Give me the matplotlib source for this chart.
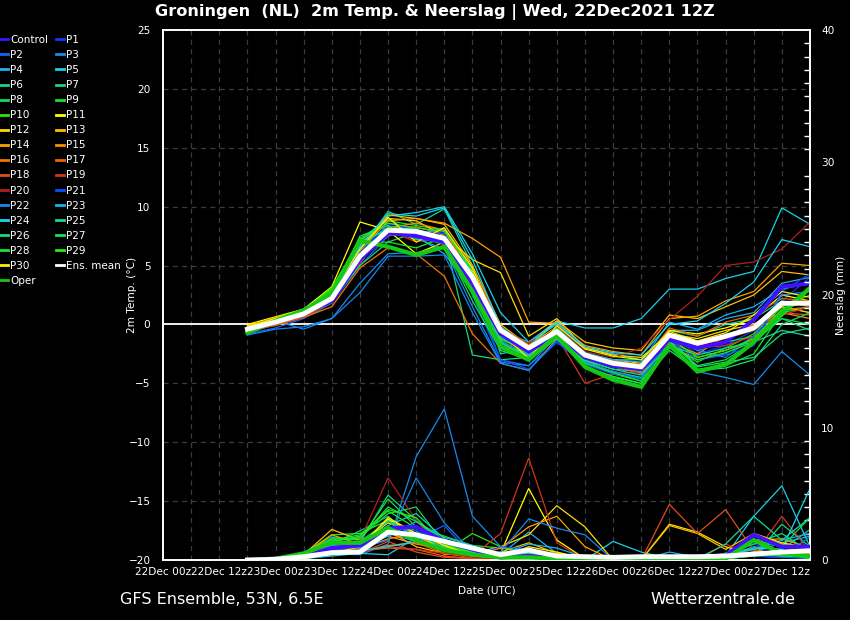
import matplotlib
matplotlib.use('Agg')
import matplotlib.pyplot as plt
from matplotlib.ticker import MultipleLocator
from matplotlib.lines import Line2D

# ---------------- data ----------------
hours = [18, 24, 30, 36, 42, 48, 54, 60, 66, 72, 78, 84, 90, 96, 102, 108, 114, 120, 126, 132, 138]
tick_hours = [0, 12, 24, 36, 48, 60, 72, 84, 96, 108, 120, 132]
tick_labels = ['22Dec 00z', '22Dec 12z', '23Dec 00z', '23Dec 12z', '24Dec 00z', '24Dec 12z',
               '25Dec 00z', '25Dec 12z', '26Dec 00z', '26Dec 12z', '27Dec 00z', '27Dec 12z']
temp_ticks = [-20, -15, -10, -5, 0, 5, 10, 15, 20, 25]
prec_ticks = [0, 10, 20, 30, 40]

# 2m temperature (deg C)
t_control = [-0.5, 0.2, 1.0, 2.0, 5.5, 7.8, 7.5, 7.0, 3.5, -0.8, -2.3, -0.8, -2.8, -3.5, -3.8, -1.3, -2.0, -1.5, 0.4, 3.2, 3.5]
t_p1 = [-0.6, 0.0, 0.8, 2.3, 6.0, 8.5, 8.2, 7.8, 4.5, -1.0, -2.5, -0.5, -2.9, -3.6, -4.0, -1.0, -2.5, -1.8, -0.5, 2.0, 4.0]
t_p2 = [-0.8, -0.3, 0.5, 1.8, 5.0, 7.5, 8.0, 7.0, 2.5, -3.0, -3.5, -1.5, -3.3, -4.0, -4.5, -2.0, -3.0, -2.5, -1.0, 1.5, 1.0]
t_p3 = [-0.7, 0.3, -0.4, 0.5, 3.5, 6.0, 6.1, 6.5, 1.5, -3.2, -3.5, -1.0, -3.0, -3.5, -4.2, -1.5, -4.0, -4.5, -5.1, -2.3, -4.3]
t_p4 = [-0.4, 0.4, 1.2, 2.5, 6.5, 9.0, 7.5, 6.0, 3.0, -0.5, -1.5, 0.0, -2.0, -2.5, -3.0, -0.5, -0.5, 0.5, 1.0, 3.5, 4.0]
t_p5 = [-0.3, 0.5, 1.3, 2.8, 7.0, 9.2, 9.5, 10.0, 6.0, 1.0, -1.5, 0.3, -0.3, -0.3, 0.5, 3.0, 3.0, 3.9, 4.5, 9.9, 8.5]
t_p6 = [-0.5, 0.1, 1.0, 2.6, 6.3, 9.6, 8.5, 9.8, 5.0, -2.5, -2.0, -0.5, -2.5, -3.0, -3.0, -0.5, -1.0, 0.0, 0.5, 2.0, 1.5]
t_p7 = [-0.6, 0.2, 0.9, 2.0, 5.0, 7.0, 7.8, 7.5, -2.6, -3.0, -2.8, -1.0, -3.0, -3.8, -4.0, -1.2, -2.2, -1.5, -1.0, 0.5, -0.5]
t_p8 = [-0.7, 0.0, 0.7, 2.2, 5.8, 8.3, 8.0, 7.2, 3.8, -1.2, -2.5, -1.0, -3.2, -4.0, -4.5, -1.5, -3.5, -3.0, -1.5, 0.5, 0.0]
t_p9 = [-0.5, 0.3, 1.1, 2.9, 7.3, 8.8, 8.4, 8.0, 4.5, -1.5, -2.8, -0.8, -3.0, -4.2, -4.8, -1.0, -3.8, -3.5, -2.5, 1.0, 1.5]
t_p10 = [-0.6, 0.4, 1.3, 3.0, 7.0, 8.0, 7.2, 7.6, 4.2, -2.0, -2.6, -0.7, -3.5, -4.5, -5.0, -1.8, -3.2, -2.0, -0.8, 1.5, 2.5]
t_p11 = [0.0, 0.65, 1.3, 3.2, 8.7, 8.0, 6.0, 7.0, 4.5, -1.0, -1.8, -0.2, -2.5, -3.0, -3.3, -0.5, -0.8, -0.3, 0.5, 2.5, 2.0]
t_p12 = [-0.1, 0.5, 1.0, 2.4, 6.8, 9.0, 8.8, 7.5, 5.5, 4.4, -1.0, 0.5, -2.0, -2.6, -2.8, -0.8, -1.2, -0.5, 0.0, 1.5, 1.0]
t_p13 = [-0.3, 0.4, 1.2, 2.7, 6.0, 9.3, 9.0, 8.5, 5.0, 0.0, -1.8, 0.3, -1.5, -2.0, -2.2, 0.8, 0.5, 1.5, 2.5, 4.5, 4.2]
t_p14 = [-0.2, 0.6, 1.1, 2.5, 6.2, 8.8, 9.0, 8.6, 7.3, 5.7, 0.2, 0.1, -1.8, -2.3, -2.6, 0.5, 0.7, 2.0, 2.8, 5.2, 5.0]
t_p15 = [-0.4, 0.2, 0.9, 2.1, 5.2, 8.2, 8.6, 8.0, 4.0, -0.5, -2.2, -0.9, -2.7, -3.0, -3.5, -1.5, -2.5, -1.0, 0.0, 1.0, 0.5]
t_p16 = [-0.5, -0.1, 0.6, 1.5, 4.8, 6.5, 6.0, 4.1, -0.8, -3.3, -3.9, -1.2, -2.9, -3.6, -4.1, -2.0, -2.8, -2.2, -1.3, 1.2, 1.5]
t_p17 = [-0.8, 0.1, 0.9, 2.3, 5.9, 8.1, 8.3, 7.6, 4.8, -0.2, -1.7, -0.4, -2.4, -3.1, -3.4, -0.3, -1.0, 0.2, 0.8, 2.2, 2.0]
t_p18 = [-0.6, 0.0, 0.6, 1.9, 5.4, 7.6, 7.7, 6.8, 3.2, -1.8, -2.4, -0.6, -2.6, -3.4, -3.9, -1.0, -1.8, -1.2, -0.5, 1.0, 0.8]
t_p19 = [-0.7, 0.0, 0.8, 2.4, 6.0, 8.0, 7.0, 7.5, 3.5, -2.0, -1.5, -1.0, -5.0, -4.2, -4.0, -1.2, -2.0, -1.8, -1.0, 0.8, 1.5]
t_p20 = [-0.6, 0.1, 0.8, 2.2, 5.6, 8.2, 7.8, 7.0, 4.0, -0.8, -2.0, -0.2, -2.3, -2.8, -2.0, 0.4, 2.4, 5.0, 5.3, 6.4, 8.7]
t_p21 = [-0.5, 0.3, 1.0, 2.6, 6.1, 8.6, 8.0, 7.7, 3.3, -3.0, -3.8, -1.5, -3.4, -4.2, -4.6, -1.3, -3.0, -2.6, -1.8, 2.8, 4.3]
t_p22 = [-0.9, -0.4, -0.2, 0.5, 2.7, 5.8, 5.8, 5.9, 1.0, -3.3, -3.9, -1.3, -3.2, -4.0, -4.6, -0.8, -2.2, -2.8, -1.0, 2.5, 2.8]
t_p23 = [-0.4, 0.2, 1.0, 2.4, 5.9, 7.9, 7.3, 6.4, 2.8, -1.4, -2.6, -0.3, -2.4, -3.0, -3.2, 0.2, -0.4, 0.8, 1.5, 3.0, 3.5]
t_p24 = [-0.3, 0.4, 1.1, 2.6, 6.6, 9.4, 9.2, 9.9, 5.5, -0.2, -1.9, 0.2, -1.9, -2.4, -2.6, 0.0, 0.3, 1.8, 3.6, 7.2, 6.6]
t_p25 = [-0.6, 0.1, 0.9, 2.3, 5.5, 7.8, 7.6, 8.2, 4.3, -1.6, -2.7, -1.0, -3.1, -3.8, -4.3, -1.8, -2.6, -2.0, -1.5, -0.5, -1.0]
t_p26 = [-0.7, 0.2, 1.1, 2.7, 6.8, 8.2, 8.1, 7.0, 3.9, -1.1, -2.3, -0.5, -2.8, -3.5, -3.9, -1.4, -3.6, -3.2, -2.8, -0.8, -0.3]
t_p27 = [-0.5, 0.3, 1.0, 2.5, 7.5, 8.4, 7.4, 6.8, 2.0, -2.2, -3.0, -1.2, -3.6, -4.4, -5.0, -2.2, -3.9, -3.7, -3.0, 0.0, 1.0]
t_p28 = [-0.6, 0.2, 1.0, 2.8, 6.9, 7.0, 6.5, 7.4, 3.6, -1.9, -2.4, -0.6, -3.3, -4.1, -4.8, -1.9, -3.0, -2.4, -1.5, 0.7, 3.0]
t_p29 = [-0.4, 0.5, 1.2, 3.1, 7.2, 8.6, 8.2, 7.9, 4.7, -1.3, -2.1, -0.3, -2.6, -3.5, -4.0, -1.1, -2.8, -2.2, -1.2, 1.3, 2.0]
t_p30 = [-0.2, 0.5, 1.1, 2.6, 6.4, 9.1, 7.0, 8.2, 4.8, -0.7, -2.9, -0.1, -2.1, -2.7, -3.0, -0.6, -1.4, -0.7, 0.8, 2.8, 2.3]
t_oper = [-0.7, 0.3, 1.2, 2.6, 7.1, 6.6, 5.9, 6.6, 2.8, -1.9, -3.0, -0.9, -3.6, -4.7, -5.3, -1.75, -4.0, -3.4, -1.5, 1.0, 3.1]
t_mean = [-0.4, 0.2, 0.9, 2.2, 5.8, 8.0, 7.9, 7.3, 4.0, -0.5, -2.0, -0.6, -2.6, -3.3, -3.6, -0.9, -1.6, -1.0, -0.3, 1.8, 1.8]

# 6-hourly precipitation (mm)
p_control = [0, 0.1, 0.3, 0.9, 1.1, 2.4, 2.5, 1.4, 0.8, 0.2, 0.3, 0.1, 0, 0, 0, 0.1, 0.1, 0.3, 1.9, 1.0, 1.0]
p_p1 = [0, 0.2, 0.5, 1.8, 1.2, 2.0, 2.6, 0.8, 0.5, 0, 0.2, 0, 0, 0, 0, 0, 0.2, 0.5, 1.2, 0.6, 0.4]
p_p2 = [0, 0.1, 0.4, 1.5, 0.9, 3.0, 1.6, 2.6, 0.3, 0.1, 0.4, 0, 0, 0, 0.1, 0, 0, 0.1, 0.3, 0.2, 0.1]
p_p3 = [0, 0.1, 0.3, 0.5, 0.4, 1.2, 7.8, 11.4, 3.3, 1.0, 0.6, 0.2, 0, 0, 0, 0, 0.1, 0, 0.5, 0.4, 0.3]
p_p4 = [0, 0, 0.2, 0.6, 1.0, 2.0, 1.4, 0.9, 0.6, 0.4, 2.1, 0.5, 0, 0, 0, 0, 0.2, 0.4, 0.6, 1.3, 1.8]
p_p5 = [0, 0, 0.1, 0.3, 0.5, 0.4, 1.7, 1.0, 0.6, 0.1, 0.4, 0.2, 0, 1.4, 0.6, 0.1, 0, 0.3, 3.3, 5.6, 1.0]
p_p6 = [0, 0.1, 0.4, 1.2, 2.2, 3.3, 1.5, 0.7, 0.5, 0.3, 0.5, 0.1, 0, 0, 0, 0, 0, 0.3, 1.0, 0.8, 2.3]
p_p7 = [0, 0.1, 0.3, 1.0, 1.3, 4.9, 3.0, 1.0, 0.4, 0.2, 0.4, 0.1, 0, 0, 0, 0.1, 0, 0.2, 0.3, 2.7, 1.0]
p_p8 = [0, 0, 0.2, 1.4, 1.7, 3.5, 4.0, 1.2, 0.3, 0.1, 0.3, 0, 0, 0, 0, 0, 0.1, 0.5, 1.5, 1.0, 3.2]
p_p9 = [0, 0.1, 0.4, 1.7, 1.5, 4.6, 2.5, 1.8, 1.1, 0.9, 0.6, 0.1, 0, 0, 0, 0, 0.1, 0.1, 0.4, 0.6, 0.2]
p_p10 = [0, 0.1, 0.5, 1.9, 2.0, 3.0, 2.2, 0.6, 2.0, 1.0, 0.5, 0.2, 0, 0, 0, 0, 0, 0.2, 0.4, 0.5, 0.1]
p_p11 = [0, 0, 0.2, 0.7, 1.0, 3.1, 1.9, 0.7, 0.3, 0.5, 5.4, 1.5, 0.1, 0, 0, 0, 0.1, 0.2, 0.5, 0.7, 0.4]
p_p12 = [0, 0.1, 0.3, 0.9, 1.2, 2.8, 2.0, 1.1, 0.5, 1.0, 1.9, 4.1, 2.5, 0, 0, 2.7, 2.1, 1.0, 0.4, 0.6, 0.2]
p_p13 = [0, 0.1, 0.4, 2.3, 1.5, 2.2, 1.0, 0.5, 0.2, 0.6, 1.3, 0.5, 0, 0, 0, 2.6, 2.0, 0.8, 2.0, 1.2, 0.9]
p_p14 = [0, 0, 0.3, 1.9, 1.2, 1.8, 1.2, 0.9, 0.3, 0.9, 2.5, 3.3, 1.0, 0, 0, 0.2, 0.1, 0.3, 1.5, 1.6, 0.9]
p_p15 = [0, 0.1, 0.2, 1.2, 0.8, 1.6, 2.0, 0.4, 0.6, 0.1, 0.3, 0.2, 0, 0, 0, 0, 0, 0.3, 0.8, 0.4, 0.6]
p_p16 = [0, 0, 0.1, 0.8, 0.6, 1.1, 1.3, 0.5, 0.2, 0, 0.1, 0.6, 0, 0, 0, 0, 0, 0.2, 0.4, 0.3, 0.5]
p_p17 = [0, 0.1, 0.2, 1.0, 0.7, 0.9, 0.8, 0.3, 0.1, 0.2, 0.5, 0.1, 0, 0, 0, 0, 0, 0.1, 0.3, 0.7, 0.8]
p_p18 = [0, 0, 0.1, 0.6, 0.5, 1.4, 0.6, 0.2, 0.1, 0, 0.2, 0.1, 0, 0, 0, 4.2, 2.0, 3.8, 0.7, 0.5, 0.9]
p_p19 = [0, 0, 0.1, 0.4, 0.6, 1.0, 0.8, 0.5, 0.3, 2.0, 7.7, 1.3, 0, 0, 0, 0, 0, 1.2, 0.4, 3.3, 0.6]
p_p20 = [0, 0.1, 0.2, 0.5, 1.5, 6.2, 3.0, 0.6, 0.2, 0.1, 0.3, 0.1, 0, 0, 0, 0, 0, 0.2, 0.3, 0.4, 0.3]
p_p21 = [0, 0.1, 0.3, 1.3, 1.0, 2.4, 2.2, 1.5, 0.3, 1.0, 0.8, 0.2, 0, 0, 0, 0, 0.2, 0.5, 0.3, 0.2, 0.8]
p_p22 = [0, 0.1, 0.2, 0.7, 0.9, 1.5, 6.2, 2.8, 0.6, 0.6, 3.1, 2.4, 1.9, 0, 0, 0, 0.1, 0.3, 0.6, 0.4, 1.7]
p_p23 = [0, 0, 0.3, 1.1, 0.9, 1.8, 2.9, 1.7, 1.1, 0.4, 1.2, 0.9, 0.2, 0, 0, 0.6, 0.2, 0.4, 0.8, 1.5, 2.0]
p_p24 = [0, 0, 0.1, 0.4, 0.7, 1.0, 1.4, 0.8, 0.5, 0.3, 0.2, 0.1, 0, 0, 0, 0, 0, 0.3, 0.9, 0.8, 5.4]
p_p25 = [0, 0.1, 0.2, 0.9, 1.3, 2.6, 3.5, 1.6, 0.5, 0.2, 0.5, 0.2, 0, 0, 0, 0, 0.1, 1.2, 3.3, 1.5, 3.2]
p_p26 = [0, 0, 0.2, 0.8, 1.4, 2.9, 2.0, 0.9, 0.6, 0.4, 0.3, 0.1, 0, 0, 0, 0, 0, 0.5, 1.2, 2.0, 0.6]
p_p27 = [0, 0.1, 0.3, 1.6, 1.6, 4.0, 2.9, 1.5, 0.5, 0.1, 0.2, 0.1, 0, 0, 0, 0, 0.1, 0.2, 0.5, 0.3, 0.2]
p_p28 = [0, 0.1, 0.4, 1.5, 1.9, 3.7, 2.4, 1.3, 0.4, 0.2, 0.4, 0.2, 0, 0, 0, 0, 0, 0.1, 0.3, 0.4, 0.3]
p_p29 = [0, 0.1, 0.3, 1.4, 1.8, 3.8, 3.2, 1.0, 0.7, 0.3, 0.3, 0.1, 0, 0, 0, 0, 0, 0.2, 0.6, 0.5, 0.2]
p_p30 = [0, 0, 0.1, 0.5, 1.0, 3.2, 2.0, 1.1, 0.3, 0.2, 1.0, 0.6, 0.1, 0, 0, 0, 0, 0.2, 2.0, 1.3, 0.9]
p_oper = [0, 0.1, 0.5, 1.3, 1.3, 2.4, 1.5, 0.75, 0.4, 0.2, 0.2, 0.1, 0, 0, 0, 0, 0, 0.1, 1.5, 0.5, 0.3]
p_mean = [0, 0.05, 0.25, 0.55, 0.6, 2.1, 1.9, 1.4, 0.9, 0.4, 0.75, 0.3, 0.25, 0.2, 0.25, 0.25, 0.25, 0.3, 0.45, 0.6, 0.7]

names = ['Control'] + ['P%d' % i for i in range(1, 31)] + ['Oper']
colors = ['#4010ff',
          '#0a3cff', '#1464ff', '#148cf0', '#1ab4f0', '#18d2e8', '#14d2a0', '#14d87c', '#14dc50',
          '#14e42c', '#28e414', '#ffff00', '#ffdc00', '#ffbe00', '#ffa000', '#ff8c00', '#f07800',
          '#e86400', '#e04c24', '#d2321e', '#b41e1e',
          '#0a50ff', '#1488f0', '#14b4f0', '#14d8f0', '#14d8a0', '#14dc7c', '#14e458', '#14e830',
          '#28ec10', '#ffee00',
          '#14c814']
temps = [t_control, t_p1, t_p2, t_p3, t_p4, t_p5, t_p6, t_p7, t_p8, t_p9, t_p10, t_p11, t_p12,
         t_p13, t_p14, t_p15, t_p16, t_p17, t_p18, t_p19, t_p20, t_p21, t_p22, t_p23, t_p24,
         t_p25, t_p26, t_p27, t_p28, t_p29, t_p30, t_oper]
precs = [p_control, p_p1, p_p2, p_p3, p_p4, p_p5, p_p6, p_p7, p_p8, p_p9, p_p10, p_p11, p_p12,
         p_p13, p_p14, p_p15, p_p16, p_p17, p_p18, p_p19, p_p20, p_p21, p_p22, p_p23, p_p24,
         p_p25, p_p26, p_p27, p_p28, p_p29, p_p30, p_oper]

# ---------------- figure ----------------
plt.rcParams['font.family'] = ['DejaVu Sans']
W, H = 850, 620
fig = plt.figure(figsize=(W / 100, H / 100), dpi=100, facecolor='black')
ax = fig.add_axes([163 / W, 60 / H, 647 / W, 530 / H])
ax.set_facecolor('black')
ax2 = ax.twinx()

ax.set_xlim(0, 138)
ax.set_ylim(-20, 25)
ax2.set_ylim(0, 40)

# grid
gridc = '#3c3c3c'
for h in range(6, 138, 6):
    ax.axvline(h, color=gridc, lw=0.9, ls=(0, (4, 3.5)), zorder=0)
for t in temp_ticks[1:-1]:
    if t != 0:
        ax.axhline(t, color=gridc, lw=0.9, ls=(0, (4, 3.5)), zorder=0)
ax.axhline(0, color='white', lw=1.3, zorder=1)

handles = {}
for name, col, tv, pv in zip(names, colors, temps, precs):
    thick = name in ('Control', 'Oper')
    lw = 3.0 if thick else 0.9
    z = 4 if thick else 2
    ln, = ax.plot(hours, tv, color=col, lw=lw, zorder=z, solid_joinstyle='miter')
    ax2.plot(hours, pv, color=col, lw=lw, zorder=z, solid_joinstyle='miter')
    handles[name] = col

ax.plot(hours, t_mean, color='white', lw=3.5, zorder=6)
ax2.plot(hours, p_mean, color='white', lw=3.5, zorder=6)
handles['Ens. mean'] = 'white'

# axes styling
for a in (ax, ax2):
    for s in a.spines.values():
        s.set_color('white')
        s.set_linewidth(1.2)
ax.set_xticks(tick_hours)
ax.set_xticklabels(tick_labels)
ax.set_yticks(temp_ticks)
ax.tick_params(axis='x', colors='white', labelsize=7.6, length=0, pad=5)
ax.tick_params(axis='y', colors='white', labelsize=7.6, length=0, pad=9)
ax2.set_yticks(prec_ticks)
ax2.yaxis.set_minor_locator(MultipleLocator(1))
ax2.tick_params(axis='y', which='major', colors='white', labelsize=7.6, length=0, pad=8)
ax2.tick_params(axis='y', which='minor', colors='white', direction='in', length=4, width=1)
ax.set_ylabel('2m Temp. (°C)', color='white', fontsize=7.6)
ax.yaxis.set_label_coords((137 - 163) / 647, 0.5)
ax2.set_ylabel('Neerslag (mm)', color='white', fontsize=7.6, labelpad=1)
ax.set_xlabel('Date (UTC)', color='white', fontsize=7.6, labelpad=6)

# legend (row-wise, two columns)
order = ['Control'] + ['P%d' % i for i in range(1, 31)] + ['Ens. mean', 'Oper']
leg_items = [Line2D([0], [0], color=handles[n], lw=2) for n in order]
idx = list(range(0, len(order), 2)) + list(range(1, len(order), 2))
fig.legend([leg_items[i] for i in idx], [order[i] for i in idx], ncol=2,
           loc='upper left', bbox_to_anchor=(0.0, 1 - 35 / H), frameon=False,
           fontsize=7.5, handlelength=0.8, handletextpad=0.15, columnspacing=0.75,
           labelspacing=0.485, borderpad=0, borderaxespad=0, labelcolor='white')

fig.text(435 / W, 1 - 12 / H, 'Groningen  (NL)  2m Temp. & Neerslag | Wed, 22Dec2021 12Z',
         color='white', fontsize=11.6, weight='bold', ha='center', va='center')
fig.text(120 / W, 1 - 599 / H, 'GFS Ensemble, 53N, 6.5E', color='white', fontsize=11.5,
         ha='left', va='center')
fig.text(795 / W, 1 - 599 / H, 'Wetterzentrale.de', color='white', fontsize=11.5,
         ha='right', va='center')

fig.savefig('out.png', dpi=100, facecolor='black')
